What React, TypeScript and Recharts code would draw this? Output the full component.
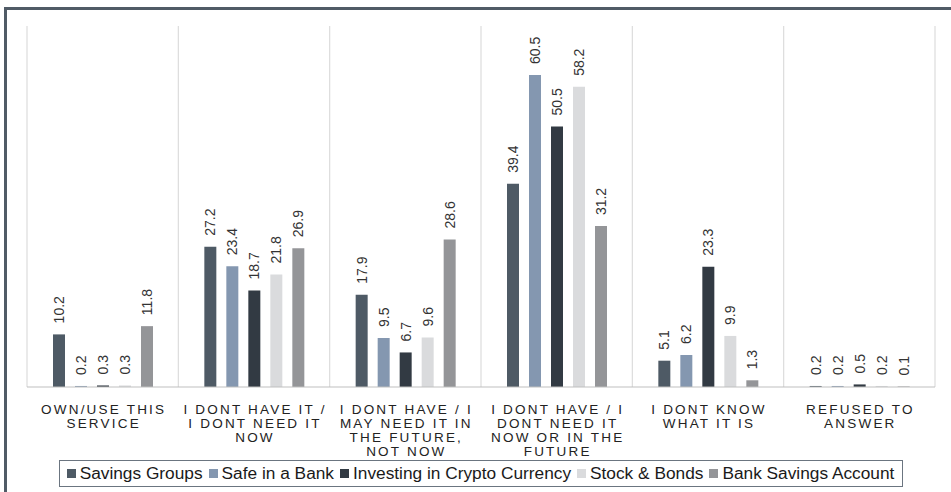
import { BarChart, Bar, XAxis, YAxis, CartesianGrid, Legend, LabelList } from "recharts";

// category labels, already broken into the lines the reference shows
const categories = [
  ["OWN/USE THIS", "SERVICE"],
  ["I DONT HAVE IT /", "I DONT NEED IT", "NOW"],
  ["I DONT HAVE / I", "MAY NEED IT IN", "THE FUTURE,", "NOT NOW"],
  ["I DONT HAVE / I", "DONT NEED IT", "NOW OR IN THE", "FUTURE"],
  ["I DONT KNOW", "WHAT IT IS"],
  ["REFUSED TO", "ANSWER"],
];

const savingsGroups = [10.2, 27.2, 17.9, 39.4, 5.1, 0.2];
const safeInBank = [0.2, 23.4, 9.5, 60.5, 6.2, 0.2];
const cryptoCurrency = [0.3, 18.7, 6.7, 50.5, 23.3, 0.5];
const stockBonds = [0.3, 21.8, 9.6, 58.2, 9.9, 0.2];
const bankSavings = [11.8, 26.9, 28.6, 31.2, 1.3, 0.1];

const SERIES = [
  { key: "sg", name: "Savings Groups", color: "#4e5a65", values: savingsGroups },
  { key: "sb", name: "Safe in a Bank", color: "#8497b0", values: safeInBank },
  { key: "cc", name: "Investing in Crypto Currency", color: "#323a43", values: cryptoCurrency },
  { key: "st", name: "Stock & Bonds", color: "#dadbdd", values: stockBonds },
  { key: "bs", name: "Bank Savings Account", color: "#949598", values: bankSavings },
];

const data = categories.map((lines, i) => {
  const row: Record<string, any> = { name: lines.join(" ") };
  SERIES.forEach((s) => (row[s.key] = s.values[i]));
  return row;
});

const FONT = "'Liberation Sans', Arial, sans-serif";

function CategoryTick(props: any) {
  const { x, y, index } = props;
  const lines = categories[index] ?? [];
  return (
    <text
      x={x}
      y={y + 7}
      textAnchor="middle"
      fontFamily={FONT}
      fontSize={13.5}
      fill="#222"
      style={{ letterSpacing: 2.2 }}
    >
      {lines.map((l, i) => (
        <tspan key={i} x={x + 1} dy={i === 0 ? 11.5 : 14.3}>
          {l}
        </tspan>
      ))}
    </text>
  );
}

function BarValue(props: any) {
  const { x, y, width, value } = props;
  const cx = x + width / 2;
  const top = y - 11;
  return (
    <text
      x={cx}
      y={top}
      transform={`rotate(-90 ${cx} ${top})`}
      textAnchor="start"
      dominantBaseline="central"
      fontFamily={FONT}
      fontSize={14}
      fill="#333"
    >
      {value.toFixed(1)}
    </text>
  );
}

function LegendBox() {
  return (
    <div style={{ height: 30, display: "flex", justifyContent: "center" }}>
      <div
        style={{
          marginTop: 3,
          height: 25,
          border: "1px solid #6b7580",
          display: "flex",
          alignItems: "center",
          padding: "0 2px 0 7px",
          fontFamily: FONT,
          fontSize: 17.3,
          color: "#1a1a1a",
          whiteSpace: "nowrap",
        }}
      >
        {SERIES.map((s) => (
          <span key={s.key} style={{ display: "inline-flex", alignItems: "center", marginRight: 6 }}>
            <span style={{ width: 9, height: 9, background: s.color, marginRight: 4, display: "inline-block" }} />
            {s.name}
          </span>
        ))}
      </div>
    </div>
  );
}

export default function App() {
  return (
    <div style={{ position: "absolute", left: 0, top: 0, width: 951, height: 492, overflow: "hidden", background: "#fff" }}>
      <div
        style={{
          position: "absolute",
          left: 4,
          top: 7,
          width: 1000,
          height: 600,
          border: "3px solid #505b66",
        }}
      />
      <div style={{ position: "absolute", left: 0, top: 0 }}>
        <BarChart
          width={951}
          height={492}
          data={data}
          margin={{ top: 26, right: 16, left: 27, bottom: 5 }}
          barSize={12}
          barGap={10}
        >
          <CartesianGrid
            horizontal={false}
            stroke="#dcdcdc"
            strokeWidth={1.2}
            verticalCoordinatesGenerator={({ offset }: any) =>
              categories.map((_, i) => offset.left + (i * offset.width) / categories.length).concat(offset.left + offset.width)
            }
          />
          <XAxis
            dataKey="name"
            height={70}
            interval={0}
            tickLine={false}
            axisLine={{ stroke: "#bfbfbf" }}
            tick={<CategoryTick />}
          />
          <YAxis hide domain={[0, 70]} />
          <Legend verticalAlign="bottom" content={() => <LegendBox />} />
          {SERIES.map((s) => (
            <Bar key={s.key} dataKey={s.key} name={s.name} fill={s.color} isAnimationActive={false}>
              <LabelList dataKey={s.key} content={<BarValue />} />
            </Bar>
          ))}
        </BarChart>
      </div>
    </div>
  );
}
